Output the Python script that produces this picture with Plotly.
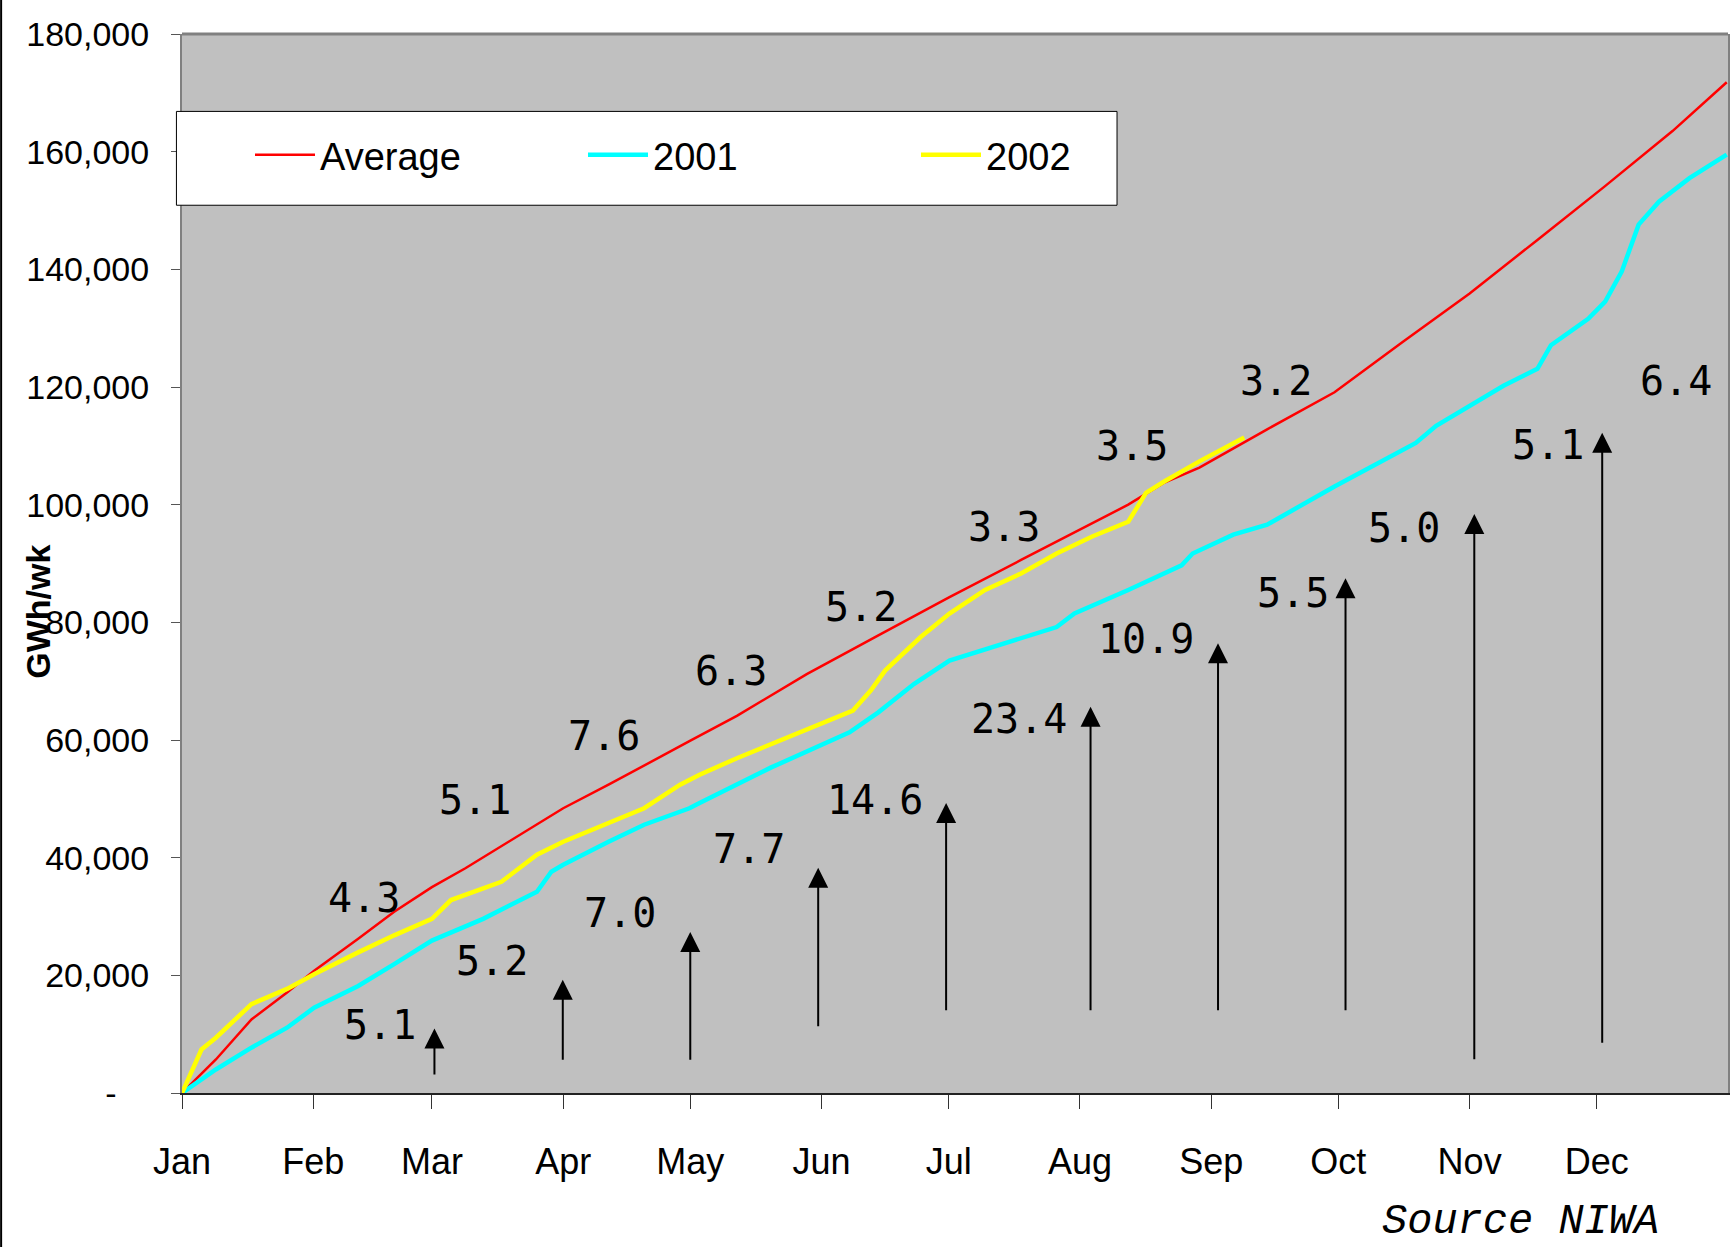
import plotly.graph_objects as go

# ---------------- data ----------------
month_days = [0, 31, 59, 90, 120, 151, 181, 212, 243, 273, 304, 334]
month_labels = ["Jan", "Feb", "Mar", "Apr", "May", "Jun", "Jul", "Aug", "Sep", "Oct", "Nov", "Dec"]

avg_day = [0, 8, 16.4, 24.8, 31.2, 41.6, 50.1, 59, 66.9, 75.4, 83.8, 90, 100.7, 109.1, 119.8,
           131, 147.5, 164.4, 181.2, 198.1, 214.9, 223.4, 231.8, 240.2, 256.2, 272.1, 288.1,
           304, 320, 335.9, 351.9, 364.7]
avg_val = [0, 5700, 12500, 17100, 20800, 26200, 30800, 35000, 38200, 41900, 45600, 48400, 52400,
           55600, 59800, 64100, 71200, 77800, 84300, 90600, 96900, 100000, 103700, 106300, 112800,
           119100, 127600, 135900, 145000, 154100, 163500, 171800]

y2001_day = [0, 8, 16.4, 24.8, 31.2, 41.6, 50.1, 59, 71.1, 83.8, 87.2, 90, 100.7, 109.1, 119.8,
             122.2, 139, 157.6, 164.4, 172.8, 181.2, 193.9, 206.5, 210.7, 223.4, 236, 238.6,
             248.2, 256.2, 272.1, 291.3, 296.1, 312, 320, 323.2, 332, 336, 339.9, 343.9, 348.7,
             355.9, 364.7]
y2001_val = [0, 4000, 7700, 11100, 14500, 18200, 21900, 25900, 29600, 34200, 37600, 38800, 42700,
             45600, 48400, 49300, 55300, 61300, 64700, 69500, 73500, 76300, 79200, 81500, 85500,
             89700, 91700, 94900, 96600, 103100, 110500, 113400, 120200, 123100, 127100, 131600,
             134500, 139600, 147600, 151500, 155500, 159500]

y2002_day = [0, 3, 4.6, 8, 12.2, 16.4, 24.8, 31.2, 41.6, 50.1, 59, 63.5, 75.4, 83.8, 90, 100.7,
             109.1, 117.6, 122.2, 131, 139, 158.4, 162.6, 166, 174.4, 181.2, 189.6, 198.1, 206.5,
             214.9, 223.4, 225.1, 227.6, 231.8, 240.3, 250.8]
y2002_val = [0, 5100, 7400, 9400, 12300, 15100, 17700, 20200, 23900, 26800, 29600, 32800, 35900,
             40500, 42700, 45900, 48400, 52400, 54100, 56900, 59300, 65000, 68400, 71800, 77500,
             81500, 85500, 88300, 91700, 94600, 97100, 99100, 102000, 103900, 107400, 111400]

y_ticks = [0, 20000, 40000, 60000, 80000, 100000, 120000, 140000, 160000, 180000]

upper_labels = ["4.3", "5.1", "7.6", "6.3", "5.2", "3.3", "3.5", "3.2", "6.4"]
lower_labels = ["5.1", "5.2", "7.0", "7.7", "14.6", "23.4", "10.9", "5.5", "5.0", "5.1"]

# ---------------- layout positions (day, GWh) ----------------
upper_pos = [(42.9, 33220), (69.2, 49750), (99.6, 60690), (129.7, 71660), (160.2, 82610),
             (194.0, 96280), (224.3, 109960), (258.3, 120950), (352.7, 120950)]
lower_pos = [(46.8, 11570), (73.2, 22460), (103.4, 30660), (133.8, 41490), (163.5, 49850),
             (197.6, 63530), (227.7, 77200), (262.2, 85040), (288.5, 95980), (322.5, 110130)]
arrow_pos = [(59.6, 2900, 10950), (89.9, 5400, 19260), (120.0, 5400, 27360),
             (150.2, 11100, 38280), (180.4, 13800, 49290), (214.5, 13800, 65640),
             (244.6, 13800, 76460), (274.7, 13800, 87500), (305.1, 5500, 98430),
             (335.3, 8300, 112230)]

SANS = "Liberation Sans, Arial, sans-serif"
MONO = "DejaVu Sans Mono, monospace"

fig = go.Figure()
fig.add_trace(go.Scatter(x=avg_day, y=avg_val, mode="lines", name="Average",
                         line=dict(color="#FF0000", width=2.5)))
fig.add_trace(go.Scatter(x=y2001_day, y=y2001_val, mode="lines", name="2001",
                         line=dict(color="#00FFFF", width=4.5)))
fig.add_trace(go.Scatter(x=y2002_day, y=y2002_val, mode="lines", name="2002",
                         line=dict(color="#FFFF00", width=4.5)))

annotations = []
for txt, (dx, dy) in zip(upper_labels + lower_labels, upper_pos + lower_pos):
    annotations.append(dict(x=dx, y=dy, xref="x", yref="y", text=txt, showarrow=False,
                            font=dict(family=MONO, size=40, color="black"),
                            xanchor="center", yanchor="middle"))
for (ax_, y0, y1) in arrow_pos:
    annotations.append(dict(x=ax_, y=y1, ax=ax_, ay=y0, xref="x", yref="y", axref="x", ayref="y",
                            text="", showarrow=True, arrowhead=2, arrowsize=2, arrowwidth=2,
                            arrowcolor="black", standoff=0, startstandoff=0))
annotations.append(dict(x=-0.0928, y=0.454, xref="paper", yref="paper", text="<b>GWh/wk</b>",
                        textangle=-90, showarrow=False, xanchor="center", yanchor="middle",
                        font=dict(family=SANS, size=34, color="black")))
annotations.append(dict(x=0.866, y=-0.1218, xref="paper", yref="paper", text="<i>Source NIWA</i>",
                        showarrow=False, xanchor="center", yanchor="middle",
                        font=dict(family="Liberation Mono, Courier New, monospace", size=42,
                                  color="black")))

shapes = [
    # outer left border of the slide
    dict(type="line", xref="paper", yref="paper", x0=-0.1170, x1=-0.1170, y0=-0.2, y1=1.1,
         line=dict(color="black", width=2)),
    # top border of plot area
    dict(type="line", xref="paper", yref="paper", x0=0, x1=1, y0=1, y1=1,
         line=dict(color="#808080", width=3)),
    # legend frame
    dict(type="rect", xref="paper", yref="paper", x0=-0.0036, x1=0.6048, y0=0.8383, y1=0.9269,
         fillcolor="white", line=dict(color="black", width=1), layer="above"),
]

ytext = ["-" + "\u00a0\u00a0\u2009\u2009"] + [f"{v:,}" for v in y_ticks[1:]]

fig.update_layout(
    width=1730, height=1247,
    margin=dict(l=182, r=2, t=34, b=154, autoexpand=False),
    paper_bgcolor="white", plot_bgcolor="#C0C0C0",
    showlegend=True,
    legend=dict(orientation="h", x=0, y=0.8857, xanchor="left", yanchor="middle",
                bgcolor="rgba(0,0,0,0)", borderwidth=0,
                font=dict(family=SANS, size=38, color="black"),
                entrywidth=190, entrywidthmode="pixels", indentation=68,
                itemwidth=60, tracegroupgap=0, valign="middle"),
    xaxis=dict(range=[0, 365], tickmode="array", tickvals=month_days, ticktext=month_labels,
               ticks="outside", ticklen=14, tickcolor="#333333", tickwidth=1,
               showline=True, linecolor="#222222", linewidth=2, showgrid=False, zeroline=False,
               automargin=False,
               tickfont=dict(family=SANS, size=36, color="black"), ticklabelstandoff=22),
    yaxis=dict(range=[0, 180000], tickmode="array", tickvals=y_ticks, ticktext=ytext,
               ticks="outside", ticklen=9, tickcolor="#555555", tickwidth=1,
               showline=True, linecolor="#808080", linewidth=2, mirror=True,
               showgrid=False, zeroline=False, automargin=False,
               tickfont=dict(family=SANS, size=34, color="black"), ticklabelstandoff=15),
    annotations=annotations,
    shapes=shapes,
)

fig.write_html("out.html")
